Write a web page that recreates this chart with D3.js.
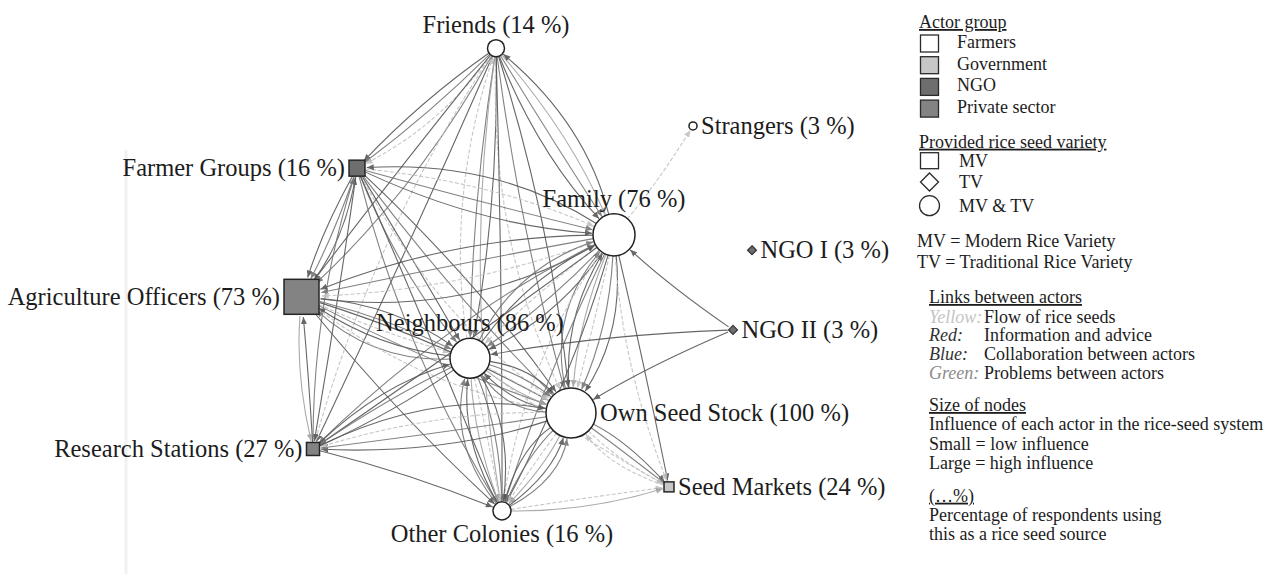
<!DOCTYPE html>
<html>
<head>
<meta charset="utf-8">
<script src="https://cdn.jsdelivr.net/npm/d3@7"></script>
<style>
  body { margin: 0; background: #fff; }
  svg text { font-family: "Liberation Serif", "Times New Roman", serif; fill: #1c1c1c; }
  .lbl { font-size: 24.5px; }
  .leg { font-size: 18px; }
  .u { text-decoration: underline; }
</style>
</head>
<body>
<svg id="chart" width="1275" height="574"></svg>
<script>
// actors and their attributes
var actors = ["Friends", "Farmer Groups", "Family", "Strangers", "NGO I", "NGO II",
  "Agriculture Officers", "Neighbours", "Own Seed Stock", "Research Stations", "Seed Markets", "Other Colonies"];
var shares = [14, 16, 76, 3, 3, 3, 73, 86, 100, 27, 24, 16];
var groups = ["Farmers", "NGO", "Farmers", "Farmers", "NGO", "NGO",
  "Private sector", "Farmers", "Farmers", "Private sector", "Government", "Farmers"];
var varieties = ["MV & TV", "MV", "MV & TV", "MV & TV", "TV", "TV",
  "MV", "MV & TV", "MV & TV", "MV", "MV", "MV & TV"];
var influence = [11.6, 10.2, 70.6, 2.6, 3.2, 3.2, 49, 64, 100, 6.8, 4, 13];

// links between actors: [from, to, type]
var links = [
  ["Friends", "Farmer Groups", "info"], ["Friends", "Farmer Groups", "collab"], ["Friends", "Farmer Groups", "seed"],
  ["Friends", "Agriculture Officers", "info"], ["Friends", "Agriculture Officers", "collab"],
  ["Friends", "Research Stations", "info"], ["Friends", "Research Stations", "seed"],
  ["Friends", "Neighbours", "info"], ["Friends", "Neighbours", "collab"], ["Neighbours", "Friends", "seed"],
  ["Friends", "Own Seed Stock", "info"], ["Friends", "Own Seed Stock", "collab"], ["Friends", "Own Seed Stock", "seed"],
  ["Friends", "Other Colonies", "info"], ["Friends", "Other Colonies", "problem"],
  ["Friends", "Family", "info"], ["Friends", "Family", "collab"], ["Friends", "Family", "problem"], ["Family", "Friends", "info"],
  ["Farmer Groups", "Agriculture Officers", "info"], ["Farmer Groups", "Agriculture Officers", "collab"], ["Agriculture Officers", "Farmer Groups", "info"],
  ["Farmer Groups", "Family", "info"], ["Farmer Groups", "Family", "collab"], ["Farmer Groups", "Family", "seed"], ["Family", "Farmer Groups", "info"],
  ["Farmer Groups", "Neighbours", "info"], ["Farmer Groups", "Neighbours", "collab"],
  ["Farmer Groups", "Own Seed Stock", "info"], ["Farmer Groups", "Own Seed Stock", "collab"], ["Farmer Groups", "Own Seed Stock", "seed"],
  ["Farmer Groups", "Other Colonies", "info"], ["Farmer Groups", "Other Colonies", "collab"],
  ["Farmer Groups", "Research Stations", "info"], ["Research Stations", "Farmer Groups", "collab"],
  ["Family", "Strangers", "seed"],
  ["NGO II", "Family", "info"],
  ["Family", "Agriculture Officers", "info"], ["Family", "Agriculture Officers", "collab"], ["Family", "Agriculture Officers", "seed"], ["Agriculture Officers", "Family", "info"],
  ["Family", "Neighbours", "info"], ["Family", "Neighbours", "collab"], ["Family", "Neighbours", "seed"],
  ["Neighbours", "Family", "info"], ["Neighbours", "Family", "collab"],
  ["Family", "Own Seed Stock", "info"], ["Family", "Own Seed Stock", "collab"], ["Family", "Own Seed Stock", "seed"], ["Family", "Own Seed Stock", "problem"],
  ["Own Seed Stock", "Family", "info"], ["Own Seed Stock", "Family", "collab"],
  ["Family", "Other Colonies", "info"], ["Family", "Other Colonies", "collab"], ["Family", "Other Colonies", "seed"],
  ["Family", "Seed Markets", "info"], ["Family", "Seed Markets", "seed"],
  ["Family", "Research Stations", "info"], ["Family", "Research Stations", "collab"],
  ["NGO II", "Neighbours", "info"], ["NGO II", "Own Seed Stock", "info"],
  ["Agriculture Officers", "Neighbours", "info"], ["Agriculture Officers", "Neighbours", "collab"], ["Agriculture Officers", "Neighbours", "seed"],
  ["Neighbours", "Agriculture Officers", "info"], ["Neighbours", "Agriculture Officers", "collab"],
  ["Agriculture Officers", "Own Seed Stock", "info"], ["Agriculture Officers", "Own Seed Stock", "collab"], ["Agriculture Officers", "Own Seed Stock", "seed"],
  ["Agriculture Officers", "Other Colonies", "info"],
  ["Research Stations", "Agriculture Officers", "info"], ["Agriculture Officers", "Research Stations", "problem"],
  ["Neighbours", "Own Seed Stock", "info"], ["Neighbours", "Own Seed Stock", "collab"], ["Neighbours", "Own Seed Stock", "seed"], ["Neighbours", "Own Seed Stock", "problem"],
  ["Own Seed Stock", "Neighbours", "info"], ["Own Seed Stock", "Neighbours", "collab"],
  ["Neighbours", "Other Colonies", "info"], ["Neighbours", "Other Colonies", "collab"], ["Neighbours", "Other Colonies", "seed"], ["Neighbours", "Other Colonies", "problem"],
  ["Other Colonies", "Neighbours", "info"], ["Other Colonies", "Neighbours", "collab"],
  ["Neighbours", "Research Stations", "info"], ["Neighbours", "Research Stations", "collab"], ["Research Stations", "Neighbours", "info"],
  ["Neighbours", "Seed Markets", "seed"],
  ["Own Seed Stock", "Other Colonies", "info"], ["Own Seed Stock", "Other Colonies", "collab"], ["Own Seed Stock", "Other Colonies", "seed"], ["Own Seed Stock", "Other Colonies", "problem"],
  ["Other Colonies", "Own Seed Stock", "info"], ["Other Colonies", "Own Seed Stock", "collab"],
  ["Own Seed Stock", "Seed Markets", "info"], ["Own Seed Stock", "Seed Markets", "collab"], ["Own Seed Stock", "Seed Markets", "seed"], ["Seed Markets", "Own Seed Stock", "seed"],
  ["Own Seed Stock", "Research Stations", "info"], ["Own Seed Stock", "Research Stations", "collab"], ["Own Seed Stock", "Research Stations", "seed"], ["Research Stations", "Own Seed Stock", "info"],
  ["Research Stations", "Other Colonies", "info"],
  ["Other Colonies", "Seed Markets", "seed"], ["Other Colonies", "Seed Markets", "problem"]
];

// legend content
var groupNames = ["Farmers", "Government", "NGO", "Private sector"];
var varietyNames = ["MV", "TV", "MV & TV"];
var varietyNotes = ["MV = Modern Rice Variety", "TV = Traditional Rice Variety"];
var linkTypes = ["seed", "info", "collab", "problem"];
var linkKeys = ["Yellow:", "Red:", "Blue:", "Green:"];
var linkLabels = ["Flow of rice seeds", "Information and advice", "Collaboration between actors", "Problems between actors"];
var sizeNotes = ["Influence of each actor in the rice-seed system", "Small = low influence", "Large = high influence"];
var shareNotes = ["Percentage of respondents using", "this as a rice seed source"];

// drawing layout (graph units 0..100) and label side
var layout = {
  "Friends": [43.2, 1.7, "top"],
  "Farmer Groups": [15.4, 26.7, "left"],
  "Family": [66.8, 40.6, "top"],
  "Strangers": [82.6, 17.9, "right"],
  "NGO I": [94.4, 43.8, "right"],
  "NGO II": [90.6, 60.4, "right"],
  "Agriculture Officers": [4.3, 53.5, "left"],
  "Neighbours": [38, 66.3, "top"],
  "Own Seed Stock": [58.2, 77.7, "right"],
  "Research Stations": [6.6, 85.2, "left"],
  "Seed Markets": [77.8, 93.1, "right"],
  "Other Colonies": [44.4, 98.1, "bottom"]
};

var groupColor = d3.scaleOrdinal().domain(groupNames).range(["#ffffff", "#c6c6c6", "#6e6e6e", "#838383"]);
var linkColor = d3.scaleOrdinal().domain(linkTypes).range(["#c2c2c2", "#575757", "#767676", "#a2a2a2"]);
var size = d3.scaleSqrt().domain([0, 100]).range([0, 25]);
var x = d3.scaleLinear().domain([0, 100]).range([280, 780]);
var y = d3.scaleLinear().domain([0, 100]).range([40, 520]);

var svg = d3.select("#chart");

// faint scan line at the left
svg.append("line").attr("x1", 126).attr("x2", 126).attr("y1", 150).attr("y2", 574)
  .attr("stroke", "#f1f1f1").attr("stroke-width", 3);

var nodes = actors.map(function(name, i) {
  var l = layout[name];
  var r = size(influence[i]);
  var shape = varieties[i];
  return {
    name: name, share: shares[i], group: groups[i], shape: shape,
    x: x(l[0]), y: y(l[1]), side: l[2], r: r,
    hit: shape === "MV" ? r * 1.1 : (shape === "TV" ? r * 1.2 : r)
  };
});
var byName = {};
nodes.forEach(function(n) { byName[n.name] = n; });

var defs = svg.append("defs");
linkTypes.forEach(function(t) {
  defs.append("marker")
    .attr("id", "arr-" + t)
    .attr("viewBox", "0 -3 7 6")
    .attr("refX", 7).attr("refY", 0)
    .attr("markerWidth", 7).attr("markerHeight", 6)
    .attr("markerUnits", "userSpaceOnUse")
    .attr("orient", "auto")
    .append("path").attr("d", "M0,-3L7,0L0,3Z").attr("fill", linkColor(t));
});

// multiple links between one pair are spread as arcs
var pairs = d3.group(links, function(d) { return [d[0], d[1]].sort().join("|"); });
var edgeData = [];
pairs.forEach(function(list, key) {
  var ends = key.split("|");
  var a = byName[ends[0]], b = byName[ends[1]];
  var dx = b.x - a.x, dy = b.y - a.y, len = Math.sqrt(dx * dx + dy * dy);
  var nx = -dy / len, ny = dx / len;
  list.forEach(function(d, i) {
    var bend = (i - (list.length - 1) / 2) * 0.085 + 0.035;
    var cx = (a.x + b.x) / 2 + nx * bend * len;
    var cy = (a.y + b.y) / 2 + ny * bend * len;
    var s = byName[d[0]], t = byName[d[1]];
    var sx = cx - s.x, sy = cy - s.y, sl = Math.sqrt(sx * sx + sy * sy);
    var tx = cx - t.x, ty = cy - t.y, tl = Math.sqrt(tx * tx + ty * ty);
    edgeData.push({
      type: d[2],
      x0: s.x + sx / sl * s.hit, y0: s.y + sy / sl * s.hit,
      cx: cx, cy: cy,
      x1: t.x + tx / tl * (t.hit + 1), y1: t.y + ty / tl * (t.hit + 1)
    });
  });
});

svg.append("g").selectAll("path")
  .data(edgeData)
  .enter().append("path")
    .attr("d", function(d) { return "M" + d.x0 + "," + d.y0 + "Q" + d.cx + "," + d.cy + " " + d.x1 + "," + d.y1; })
    .attr("fill", "none")
    .attr("stroke", function(d) { return linkColor(d.type); })
    .attr("stroke-width", 1.1)
    .attr("stroke-dasharray", function(d) { return d.type === "seed" ? "4,2" : null; })
    .attr("opacity", 0.9)
    .attr("marker-end", function(d) { return "url(#arr-" + d.type + ")"; });

var node = svg.append("g").selectAll("g")
  .data(nodes)
  .enter().append("g")
    .attr("transform", function(d) { return "translate(" + d.x + "," + d.y + ")"; });

node.filter(function(d) { return d.shape === "MV & TV"; }).append("circle")
  .attr("r", function(d) { return d.r; })
  .attr("fill", function(d) { return groupColor(d.group); })
  .attr("stroke", "#222").attr("stroke-width", 1.5);
node.filter(function(d) { return d.shape === "MV"; }).append("rect")
  .attr("x", function(d) { return -d.r; }).attr("y", function(d) { return -d.r; })
  .attr("width", function(d) { return 2 * d.r; }).attr("height", function(d) { return 2 * d.r; })
  .attr("fill", function(d) { return groupColor(d.group); })
  .attr("stroke", "#262626").attr("stroke-width", 1.5);
node.filter(function(d) { return d.shape === "TV"; }).append("path")
  .attr("d", function(d) { var r = d.r; return "M0," + (-r) + "L" + r + ",0L0," + r + "L" + (-r) + ",0Z"; })
  .attr("fill", function(d) { return groupColor(d.group); })
  .attr("stroke", "#333").attr("stroke-width", 1.2);

node.append("text")
  .attr("class", "lbl")
  .text(function(d) { return d.name + " (" + d.share + " %)"; })
  .attr("text-anchor", function(d) { return d.side === "left" ? "end" : (d.side === "right" ? "start" : "middle"); })
  .attr("x", function(d) {
    if (d.side === "left") return -d.r - 4;
    if (d.side === "right") return d.r + 4;
    return 0;
  })
  .attr("y", function(d) {
    if (d.side === "top") return -d.r - 7;
    if (d.side === "bottom") return d.r + 22;
    return 8;
  });

// legend
var leg = svg.append("g").attr("class", "leg");

leg.append("text").attr("class", "u").attr("x", 919).attr("y", 28).text("Actor group");
groupNames.forEach(function(g, i) {
  var by = 48 + i * 21.7;
  leg.append("rect").attr("x", 920.5).attr("y", by - 13).attr("width", 18).attr("height", 17)
    .attr("fill", groupColor(g)).attr("stroke", "#2a2a2a").attr("stroke-width", 1.3);
  leg.append("text").attr("x", 957).attr("y", by).text(g);
});

leg.append("text").attr("class", "u").attr("x", 919).attr("y", 147.7).text("Provided rice seed variety");
varietyNames.forEach(function(v, i) {
  var by = [166.7, 188, 211.7][i];
  var cy = by - 6;
  if (v === "MV") {
    leg.append("rect").attr("x", 920.5).attr("y", cy - 8).attr("width", 18).attr("height", 16)
      .attr("fill", "#fff").attr("stroke", "#2a2a2a").attr("stroke-width", 1.3);
  } else if (v === "TV") {
    leg.append("path").attr("d", "M929.5," + (cy - 9) + "L938.5," + cy + "L929.5," + (cy + 9) + "L920.5," + cy + "Z")
      .attr("fill", "#fff").attr("stroke", "#2a2a2a").attr("stroke-width", 1.3);
  } else {
    leg.append("circle").attr("cx", 929.5).attr("cy", cy).attr("r", 10)
      .attr("fill", "#fff").attr("stroke", "#2a2a2a").attr("stroke-width", 1.3);
  }
  leg.append("text").attr("x", 959).attr("y", by).text(v);
});

varietyNotes.forEach(function(t, i) {
  leg.append("text").attr("x", 917).attr("y", 246.7 + i * 21.3).text(t);
});

leg.append("text").attr("class", "u").attr("x", 929).attr("y", 303).text("Links between actors");
var keyColors = ["#c4c4c4", "#333", "#333", "#8c8c8c"];
linkKeys.forEach(function(k, i) {
  var by = [322.7, 340.7, 360, 379][i];
  leg.append("text").attr("x", 929).attr("y", by).style("font-style", "italic")
    .style("fill", keyColors[i]).text(k);
  leg.append("text").attr("x", 984).attr("y", by).text(linkLabels[i]);
});

leg.append("text").attr("class", "u").attr("x", 929).attr("y", 411).text("Size of nodes");
sizeNotes.forEach(function(t, i) {
  leg.append("text").attr("x", 929).attr("y", 430 + i * 19.5).text(t);
});

leg.append("text").attr("class", "u").attr("x", 929).attr("y", 501.7).text("(\u2026%)");
shareNotes.forEach(function(t, i) {
  leg.append("text").attr("x", 929).attr("y", 520.7 + i * 19.3).text(t);
});
</script>
</body>
</html>
